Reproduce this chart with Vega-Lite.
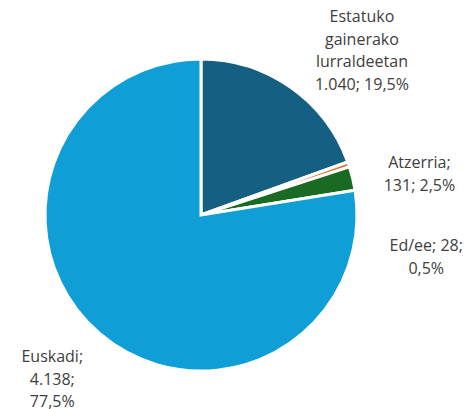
{
  "$schema": "https://vega.github.io/schema/vega-lite/v6.json",
  "width": 402,
  "height": 388,
  "padding": {"left": 0, "top": 21, "right": 71, "bottom": 0},
  "autosize": {"type": "none"},
  "background": "white",
  "config": {"view": {"stroke": null}},
  "data": {
    "values": [
      {"cat": "Estatuko gainerako lurraldeetan", "value": 1040, "ord": 1, "label": "Estatuko\ngainerako\nlurraldeetan\n1.040; 19,5%"},
      {"cat": "Ed/ee", "value": 28, "ord": 2, "label": "Ed/ee; 28;\n0,5%"},
      {"cat": "Atzerria", "value": 131, "ord": 3, "label": "Atzerria;\n131; 2,5%"},
      {"cat": "Euskadi", "value": 4138, "ord": 4, "label": "Euskadi;\n4.138;\n77,5%"}
    ]
  },
  "encoding": {
    "theta": {"field": "value", "type": "quantitative", "stack": true},
    "order": {"field": "ord", "type": "quantitative"}
  },
  "layer": [
    {
      "mark": {"type": "arc", "outerRadius": 156, "stroke": "white", "strokeWidth": 3},
      "encoding": {
        "color": {
          "field": "cat", "type": "nominal", "legend": null,
          "scale": {
            "domain": ["Estatuko gainerako lurraldeetan", "Ed/ee", "Atzerria", "Euskadi"],
            "range": ["#156082", "#E97132", "#196B24", "#0F9ED5"]
          }
        }
      }
    },
    {
      "mark": {"type": "text", "radius": 200, "dx": 46, "dy": -34, "align": "center", "baseline": "middle", "lineBreak": "\n", "lineHeight": 22.5, "fontSize": 16, "font": "Open Sans", "color": "#404040"},
      "encoding": {"text": {"condition": {"test": "datum.ord === 1", "field": "label"}, "value": ""}}
    },
    {
      "mark": {"type": "text", "radius": 200, "dx": 36, "dy": 96, "align": "center", "baseline": "middle", "lineBreak": "\n", "lineHeight": 22.5, "fontSize": 16, "font": "Open Sans", "color": "#404040"},
      "encoding": {"text": {"condition": {"test": "datum.ord === 2", "field": "label"}, "value": ""}}
    },
    {
      "mark": {"type": "text", "radius": 200, "dx": 24, "dy": -5, "align": "center", "baseline": "middle", "lineBreak": "\n", "lineHeight": 22.5, "fontSize": 16, "font": "Open Sans", "color": "#404040"},
      "encoding": {"text": {"condition": {"test": "datum.ord === 3", "field": "label"}, "value": ""}}
    },
    {
      "mark": {"type": "text", "radius": 200, "dx": -19, "dy": -10, "align": "center", "baseline": "middle", "lineBreak": "\n", "lineHeight": 22.5, "fontSize": 16, "font": "Open Sans", "color": "#404040"},
      "encoding": {"text": {"condition": {"test": "datum.ord === 4", "field": "label"}, "value": ""}}
    }
  ]
}
